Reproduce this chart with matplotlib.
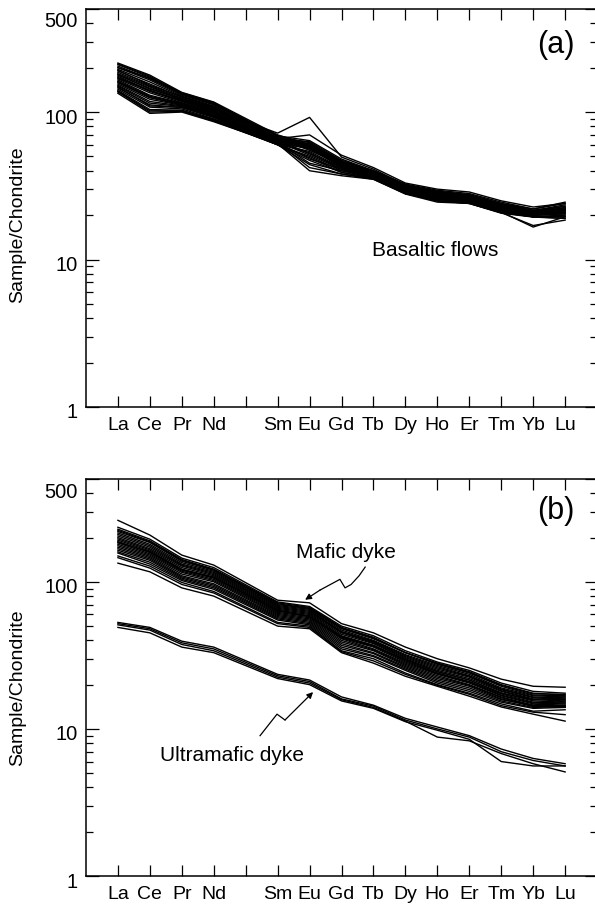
import numpy as np
import matplotlib
matplotlib.use("Agg")
import matplotlib.pyplot as plt
import matplotlib.transforms as mtransforms

plt.rcParams["font.family"] = ["Liberation Sans", "DejaVu Sans"]

# chondrite-normalised REE, Pm is not plotted (gap between Nd and Sm)
TICK_LABELS = ["La", "Ce", "Pr", "Nd", "", "Sm", "Eu", "Gd", "Tb", "Dy", "Ho", "Er", "Tm", "Yb", "Lu"]
REE_POS = [0, 1, 2, 3, 5, 6, 7, 8, 9, 10, 11, 12, 13, 14]

#               La   Ce   Pr   Nd   Sm   Eu   Gd    Tb    Dy    Ho    Er    Tm    Yb    Lu
BASALTIC_FLOWS = [
    [215, 178, 136, 117, 70, 60, 47, 40, 32, 29, 27.5, 24, 21.5, 23.5],
    [212, 175, 133, 114, 69, 59, 46, 39.5, 31.5, 29, 27, 23.5, 21.5, 23],
    [210, 172, 134, 115, 68, 62, 46, 39, 31.5, 28.5, 27, 23.5, 21, 23],
    [205, 168, 132, 113, 69, 64, 48, 40, 32.5, 29.5, 28, 24.5, 22, 24],
    [200, 165, 130, 112, 67, 58, 45, 39, 31, 28, 26.5, 23, 21, 22],
    [195, 160, 128, 110, 66, 61, 46, 38, 30.5, 28, 26.5, 23, 20.5, 22.5],
    [192, 152, 127, 109, 66, 57, 44.5, 38.5, 30.5, 28, 26.5, 23, 21, 22.5],
    [190, 155, 126, 108, 67, 55, 44, 38, 31, 28.5, 27, 23.5, 21.5, 22],
    [186, 150, 124, 107, 65, 60, 45, 38, 30, 27.5, 26, 22.5, 20.5, 21.5],
    [182, 148, 122, 105, 66, 63, 47, 39, 31, 28, 26.5, 23, 21, 22],
    [180, 143, 123, 106, 65, 59, 44, 38, 30.5, 27.5, 26, 22.5, 20.5, 21.5],
    [178, 145, 121, 104, 64, 57, 43, 37, 30, 27, 25.5, 22, 20, 21],
    [175, 140, 119, 102, 65, 52, 42, 37, 29.5, 27, 25.5, 22, 20, 20.5],
    [172, 138, 118, 101, 63, 59, 44, 37.5, 30, 27, 26, 22.5, 20.5, 21.5],
    [168, 135, 116, 100, 64, 61, 45, 38, 30.5, 27.5, 26, 22.5, 21, 22],
    [165, 130, 115, 99, 62, 48, 41, 36, 29, 26.5, 25, 21.5, 19.5, 20],
    [162, 128, 114, 98, 63, 56, 43, 37, 29.5, 27, 25.5, 22, 20.5, 21],
    [160, 126, 113, 97, 63, 51, 41, 36.5, 29, 26.5, 25, 21.5, 20, 21],
    [158, 125, 112, 96, 62, 45, 40, 36, 29, 26, 25, 21.5, 20, 20.5],
    [155, 122, 111, 95, 61, 58, 43, 37, 29.5, 26.5, 25.5, 22, 20.5, 21.5],
    [152, 118, 110, 94, 62, 42, 38, 35.5, 28.5, 25.5, 24.5, 21, 19.5, 19.5],
    [150, 115, 109, 93, 61, 54, 42, 36.5, 29, 26, 25, 21.5, 20, 20.5],
    [148, 110, 108, 92, 61, 57, 42, 36.5, 29, 26, 25, 21.5, 20, 20.5],
    [146, 112, 107, 92, 60, 50, 40, 36, 28.5, 26, 24.5, 21, 19.5, 20],
    [143, 108, 105, 90, 61, 40, 37, 35, 28, 25, 24, 20.8, 19.5, 19],
    [140, 104, 103, 89, 60, 47, 39, 35.5, 28, 25, 24, 20.8, 17, 18.5],
    [138, 102, 102, 88, 60, 49, 39, 35.5, 28, 25, 24.2, 20.8, 19.5, 19.5],
    [137, 100, 101, 87, 60, 44, 38, 35, 27.8, 24.5, 24, 20.6, 19.4, 19],
    [134, 98, 100, 86, 61, 53, 41, 36, 28.5, 25.5, 24.5, 21, 16.6, 19.5],
    [170, 140, 120, 103, 72, 92, 49.5, 41, 32, 29, 27.5, 24, 22, 24.5],
    [200, 170, 135, 116, 66, 70, 51, 42, 33, 30, 28.7, 25, 22.7, 24],
]

MAFIC_DYKE = [
    [262, 208, 152, 130, 75, 72, 52, 45, 36, 30, 26, 21.8, 19.5, 19.2],
    [235, 195, 145, 125, 73, 68, 50, 43, 34, 28.5, 25, 20.5, 18, 17.5],
    [228, 190, 142, 122, 72, 67, 49, 42, 33, 28, 24.5, 20, 17.5, 17],
    [224, 187, 140, 121, 71, 66, 48.5, 41.5, 33, 27.8, 24.2, 19.8, 17.3, 17.2],
    [220, 185, 138, 120, 70, 66, 48, 41, 33, 27.5, 24, 19.5, 17, 16.8],
    [215, 180, 135, 118, 69, 65, 47, 40, 32, 27, 23.5, 19, 16.8, 16.5],
    [210, 176, 132, 116, 68, 64, 46, 39.5, 31.5, 26.5, 23, 18.7, 16.5, 16.2],
    [205, 172, 130, 114, 67, 63, 45.5, 39, 31, 26, 22.8, 18.5, 16.3, 16],
    [200, 168, 128, 112, 66, 62, 45, 38.5, 30.5, 25.5, 22.5, 18.2, 16, 15.8],
    [196, 165, 125, 110, 65, 61, 44, 38, 30, 25, 22, 18, 15.8, 15.5],
    [192, 162, 122, 108, 64, 60, 43, 37, 29.5, 24.5, 21.5, 17.6, 15.5, 15.2],
    [188, 158, 120, 106, 63, 59, 42, 36.5, 29, 24, 21, 17.3, 15.2, 15],
    [186, 160, 121, 107, 64, 58, 42.5, 37, 29.5, 24.5, 21.5, 17.5, 15.8, 16.5],
    [184, 155, 118, 104, 62, 58, 41.5, 36, 28.5, 23.8, 20.8, 17, 15, 14.8],
    [180, 152, 116, 102, 61, 57, 41, 35, 28, 23.5, 20.5, 16.8, 14.8, 14.5],
    [176, 149, 113, 100, 60, 56, 40, 34.5, 27.5, 23, 20, 16.5, 14.5, 14.3],
    [172, 146, 110, 97, 59, 55, 39, 34, 27, 22.5, 19.8, 16.3, 14.3, 14.1],
    [168, 143, 108, 95, 58, 54, 38, 33, 26.5, 22, 19.5, 16, 14.2, 14.5],
    [164, 140, 106, 93, 57, 53, 37, 32.5, 26, 21.5, 19, 15.8, 14.5, 15.5],
    [160, 136, 104, 91, 56, 52, 36, 31.5, 25.5, 21, 18.5, 15.5, 14, 14.2],
    [157, 132, 102, 89, 55, 51, 35, 31, 25, 20.5, 18, 15.2, 13.8, 14],
    [150, 128, 99, 86, 53, 50, 34, 30, 24, 20, 17.5, 14.8, 13.2, 13.5],
    [146, 124, 96, 84, 52, 49, 33.5, 29, 23.5, 19.8, 17.2, 14.4, 13, 12.5],
    [134, 117, 91, 80, 50, 48, 33, 28, 22.8, 19.5, 16.7, 14.1, 12.6, 11.3],
]

ULTRAMAFIC_DYKE = [
    [53, 49, 39.5, 36, 23.5, 21.5, 16.5, 14.5, 11.8, 10.3, 9, 7.3, 6.3, 5.8],
    [52, 48, 38.5, 35, 23, 21, 16, 14.3, 11.5, 10, 8.8, 7.0, 6.1, 5.6],
    [51, 47, 37.5, 34, 22.5, 20.5, 15.8, 14, 11.3, 8.8, 8.3, 6.8, 5.8, 5.1],
    [49, 45, 36, 33, 22, 20, 15.5, 13.8, 11.2, 9.8, 8.5, 6.0, 5.6, 5.6],
]

# wavy leader lines (x in element index, y in sample/chondrite)
MAFIC_LEADER_X = [7.74, 7.55, 7.3, 7.11, 6.95, 6.33, 5.86]
MAFIC_LEADER_Y = [126, 110, 96, 91, 104, 88, 75.5]
ULTRA_LEADER_X = [4.45, 4.98, 5.23, 6.11]
ULTRA_LEADER_Y = [9.0, 12.6, 11.5, 17.8]

fig = plt.figure(figsize=(5.95, 9.09), dpi=100)
ax_a = fig.add_axes([0.1445, 0.5523, 0.859, 0.4378])
ax_b = fig.add_axes([0.1445, 0.0363, 0.859, 0.4367])

def style_axis(ax):
    ax.set_yscale("log")
    ax.set_xlim(-1, 15)
    ax.set_ylim(1, 500)
    ax.set_xticks(range(15))
    ax.set_xticklabels(TICK_LABELS, fontsize=14)
    ax.set_yticks([1, 10, 100, 500])
    ax.set_yticklabels(["1", "10", "100", "500"], fontsize=14.5)
    minors = [m * 10 ** e for e in range(3) for m in range(2, 10) if m * 10 ** e < 500]
    ax.set_yticks(minors, minor=True)
    ax.set_yticklabels([], minor=True)
    ax.tick_params(axis="x", which="both", direction="in", top=True, bottom=True,
                   length=8, width=0.9, pad=7)
    ax.tick_params(axis="y", which="major", direction="in", left=True, right=True,
                   length=9, width=0.9, pad=6)
    ax.tick_params(axis="y", which="minor", direction="in", left=True, right=True,
                   length=5, width=0.9)
    for s in ax.spines.values():
        s.set_linewidth(1.1)
    ax.set_ylabel("Sample/Chondrite", fontsize=14)
    # labels sit a little low in the original
    for lab in ax.get_yticklabels():
        dy = -11 if lab.get_text() == "500" else -4
        lab.set_transform(lab.get_transform() +
                          mtransforms.ScaledTranslation(0, dy / 100, fig.dpi_scale_trans))

style_axis(ax_a)
style_axis(ax_b)
ax_a.yaxis.set_label_coords(-0.118, 0.457)
ax_b.yaxis.set_label_coords(-0.118, 0.475)

for row in BASALTIC_FLOWS:
    ax_a.plot(REE_POS, row, color="black", lw=1.0)
for row in MAFIC_DYKE:
    ax_b.plot(REE_POS, row, color="black", lw=1.0)
for row in ULTRAMAFIC_DYKE:
    ax_b.plot(REE_POS, row, color="black", lw=1.0)

ax_a.text(9.93, 11.6, "Basaltic flows", fontsize=15, ha="center", va="center")
ax_a.text(0.92, 0.91, "(a)", transform=ax_a.transAxes, fontsize=22, ha="center", va="center")
ax_b.text(0.92, 0.92, "(b)", transform=ax_b.transAxes, fontsize=22, ha="center", va="center")
ax_b.text(7.14, 159, "Mafic dyke", fontsize=15, ha="center", va="center")
ax_b.text(3.57, 6.6, "Ultramafic dyke", fontsize=15, ha="center", va="center")

for lx, ly in [(MAFIC_LEADER_X, MAFIC_LEADER_Y), (ULTRA_LEADER_X, ULTRA_LEADER_Y)]:
    ax_b.plot(lx[:-1], ly[:-1], color="black", lw=0.9)
    ax_b.annotate("", xy=(lx[-1], ly[-1]), xytext=(lx[-2], ly[-2]),
                  arrowprops=dict(arrowstyle="-|>", color="black", lw=0.9,
                                  mutation_scale=9, shrinkA=0, shrinkB=0))

fig.savefig("out.png", dpi=100)
